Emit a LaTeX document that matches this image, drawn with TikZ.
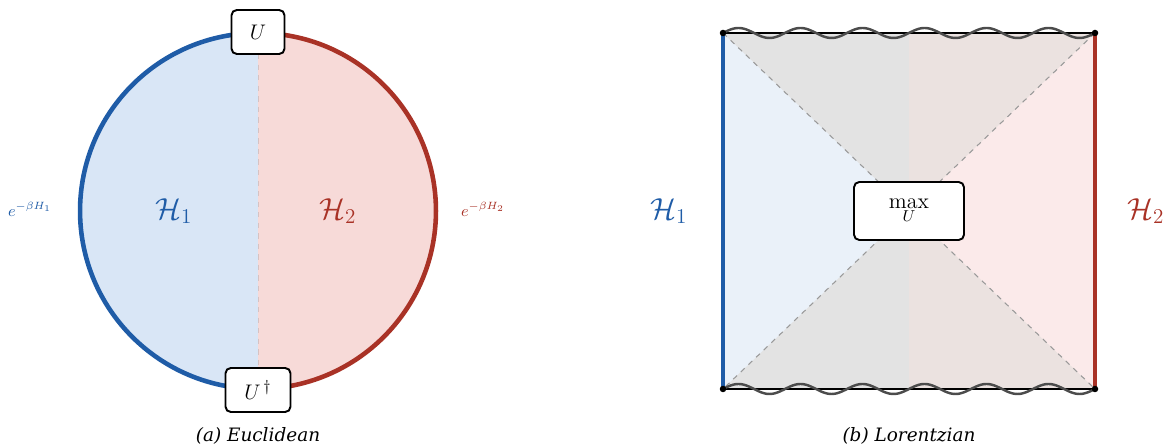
\documentclass[tikz,border=0pt]{standalone}
\usepackage{fontspec}
\newfontfamily\capfont{DejaVu Serif}
\usetikzlibrary{positioning, calc}

\definecolor{blueline}{HTML}{1F5CA7}
\definecolor{redline}{HTML}{A93226}
\definecolor{bluefill}{HTML}{D9E6F6}
\definecolor{redfill}{HTML}{F7DAD8}
\definecolor{bluepale}{HTML}{EAF1F9}
\definecolor{redpale}{HTML}{FBEAEA}
\definecolor{greyL}{HTML}{E3E3E3}
\definecolor{greyR}{HTML}{EBE2E0}

\begin{document}
\begin{tikzpicture}[
    x=0.02cm, y=0.02cm,
    opbox/.style    ={draw, rounded corners=3pt, fill=white, line width=1.1pt,
                      align=center, inner sep=2pt, font=\fontsize{12.5}{14}\selectfont},
    hilabel/.style  ={font=\fontsize{17}{20}\selectfont},
    boltz/.style    ={font=\fontsize{9}{11}\selectfont},
    caption/.style  ={font=\capfont\itshape\fontsize{10.5}{12}\selectfont},
    diag/.style     ={dashed, gray!80, line width=0.6pt},
    wave/.style     ={line width=1.4pt, black!70},
    edge/.style     ={line width=1pt, black}
]
\useasboundingbox (0,0) rectangle (1166,445);

% =================== (a) Euclidean: two half discs ===================
\coordinate (ctrA) at (258,234);
\fill[bluefill] (258,412) arc[start angle=90, end angle=270, radius=3.56cm] -- cycle;
\fill[redfill]  (258,412) arc[start angle=90, end angle=-90, radius=3.56cm] -- cycle;
\draw[dashed, red!20!gray!40, line width=0.5pt] (258,412) -- (258,56);
\draw[blueline, line width=2.6pt] (258,412) arc[start angle=90, end angle=270, radius=3.56cm];
\draw[redline, line width=2.6pt]  (258,412) arc[start angle=90, end angle=-90, radius=3.56cm];

\node[opbox, minimum width=1.06cm, minimum height=0.88cm] (uBox) at (258,413) {$U$};
\node[opbox, minimum width=1.3cm, minimum height=0.88cm] (udagBox) at (258,55) {$U^{\,\dagger}$};

\node[hilabel, text=blueline] (hOneA) at (174,234) {$\mathcal{H}_1$};
\node[hilabel, text=redline]  (hTwoA) at (338,234) {$\mathcal{H}_2$};
\node[boltz, text=blueline] (boltzOne) at (30,236) {$e^{-\beta H_1}$};
\node[boltz, text=redline]  (boltzTwo) at (483,236) {$e^{-\beta H_2}$};

\node[caption] (capA) at (258,9) {(a) Euclidean};

% =================== (b) Lorentzian: the square ===================
\coordinate (bl) at (723,56);
\coordinate (br) at (1095,56);
\coordinate (tl) at (723,412);
\coordinate (tr) at (1095,412);
\coordinate (ctrB) at (909,234);

\fill[bluepale] (bl) rectangle (909,412);
\fill[redpale]  (909,56) rectangle (tr);
\fill[greyL] (tl) -- (909,412) -- (ctrB) -- cycle;
\fill[greyR] (909,412) -- (tr) -- (ctrB) -- cycle;
\fill[greyL] (bl) -- (909,56) -- (ctrB) -- cycle;
\fill[greyR] (909,56) -- (br) -- (ctrB) -- cycle;

\draw[diag] (tl) -- (br);
\draw[diag] (tr) -- (bl);

% singular edges, top and bottom
\draw[edge] (tl) -- (tr);
\draw[edge] (bl) -- (br);
\draw[wave] plot[domain=0:372, samples=240, smooth] ({723+\x}, {412+5*sin(5.80645*\x)});
\draw[wave] plot[domain=0:372, samples=240, smooth] ({723+\x}, {56+5*sin(5.80645*\x)});

% boundaries
\draw[blueline, line width=2.6pt] (bl) -- (tl);
\draw[redline, line width=2.6pt]  (br) -- (tr);
\foreach \c in {bl, br, tl, tr}
    \fill (\c) circle[radius=0.065cm];

\node[opbox, minimum width=2.2cm, minimum height=1.16cm] (maxBox) at (ctrB)
    {$\max\limits_{U}$};

\node[hilabel, text=blueline] (hOneB) at (669,234) {$\mathcal{H}_1$};
\node[hilabel, text=redline]  (hTwoB) at (1146,234) {$\mathcal{H}_2$};

\node[caption] (capB) at (909,9) {(b) Lorentzian};

\end{tikzpicture}
\end{document}
